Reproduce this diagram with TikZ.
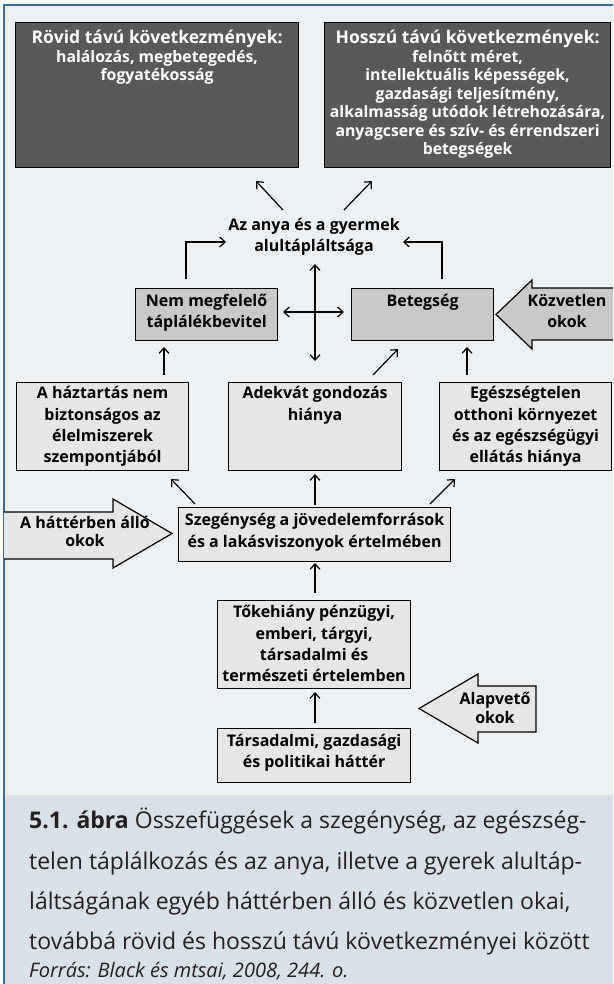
\documentclass[tikz,border=0pt]{standalone}
\usepackage{fontspec}
\setmainfont{Open Sans}
\usetikzlibrary{arrows.meta,calc}
\definecolor{pagebg}{HTML}{EDF1F4}
\definecolor{capbg}{HTML}{D9E1E8}
\definecolor{frameblue}{HTML}{3A6C9A}
\definecolor{darkbox}{HTML}{58595B}
\definecolor{midgrey}{HTML}{C9C9C9}
\definecolor{lightgrey}{HTML}{E6E6E6}
\definecolor{captext}{HTML}{231F20}
\newcommand{\consheading}[1]{{\fontsize{17.5}{18.5}\selectfont\bfseries #1}}
\tikzset{
  boxframe/.style={draw=black,line width=1.2pt},
  darkframe/.style={boxframe,fill=darkbox},
  midframe/.style={boxframe,fill=midgrey},
  lightframe/.style={boxframe,fill=lightgrey},
  boxtext/.style={anchor=north,align=center,inner sep=0pt,
    font=\fontsize{16}{21.3}\selectfont\bfseries},
  darktext/.style={anchor=north,align=center,inner sep=0pt,text=white,
    font=\fontsize{15.8}{18.5}\selectfont\bfseries},
  arr/.style={line width=1.2pt,-{Straight Barb[length=5.5pt,width=10pt,line width=1.2pt]}},
  dblarr/.style={line width=1.2pt,{Straight Barb[length=5.5pt,width=10pt,line width=1.2pt]}-{Straight Barb[length=5.5pt,width=10pt,line width=1.2pt]}},
  captionline/.style={anchor=base west,inner sep=0pt,text=captext,
    font=\fontsize{23}{40}\selectfont},
}
\begin{document}
\begin{tikzpicture}[x=1pt,y=-1pt]
\useasboundingbox (0,0) rectangle (613,984);
% page and caption band, with the blue frame on top and left
\fill[white] (0,0) rectangle (613,984);
\fill[pagebg] (4,5) rectangle (613,795);
\fill[capbg] (4,795) rectangle (613,984);
\draw[frameblue,line width=1.5pt] (4,984) -- (4,5) -- (613,5);

% consequences
\node[darkframe,minimum width=283pt,minimum height=145pt,anchor=north west,inner sep=0pt] (shortbox) at (15,22) {};
\node[darktext] (shorttxt) at ($(shortbox.north)+(0,8)$) {\consheading{Rövid távú következmények:}\\halálozás, megbetegedés,\\fogyatékosság};
\node[darkframe,minimum width=286pt,minimum height=145pt,anchor=north west,inner sep=0pt] (longbox) at (324,22) {};
\node[darktext] (longtxt) at ($(longbox.north)+(0,8)$) {\consheading{Hosszú távú következmények:}\\felnőtt méret,\\intellektuális képességek,\\gazdasági teljesítmény,\\alkalmasság utódok létrehozására,\\anyagcsere és szív- és érrendszeri\\betegségek};

% undernutrition
\node[boxtext] (under) at (314,218) {Az anya és a gyermek\\alultápláltsága};

% immediate causes
\node[midframe,minimum width=142pt,minimum height=52pt,anchor=north west,inner sep=0pt] (intake) at (135,288) {};
\node[boxtext] (intaketxt) at ($(intake.north)+(0,6)$) {Nem megfelelő\\táplálékbevitel};
\node[midframe,minimum width=142pt,minimum height=52pt,anchor=north west,inner sep=0pt] (disease) at (351,288) {};
\node[boxtext] (diseasetxt) at ($(disease.north)+(0,6)$) {Betegség};

% underlying causes
\node[lightframe,minimum width=172pt,minimum height=88pt,anchor=north west,inner sep=0pt] (food) at (16,382) {};
\node[boxtext] (foodtxt) at ($(food.north)+(0,4.5)$) {A háztartás nem\\biztonságos az\\élelmiszerek\\szempontjából};
\node[lightframe,minimum width=173pt,minimum height=88pt,anchor=north west,inner sep=0pt] (care) at (228,382) {};
\node[boxtext] (caretxt) at ($(care.north)+(0,4.5)$) {Adekvát gondozás\\hiánya};
\node[lightframe,minimum width=172pt,minimum height=88pt,anchor=north west,inner sep=0pt] (env) at (439,382) {};
\node[boxtext] (envtxt) at ($(env.north)+(0,4.5)$) {Egészségtelen\\otthoni környezet\\és az egészségügyi\\ellátás hiánya};

\node[lightframe,minimum width=272pt,minimum height=54pt,anchor=north west,inner sep=0pt] (poverty) at (178,507) {};
\node[boxtext] (povertytxt) at ($(poverty.north)+(0,6.5)$) {Szegénység a jövedelemforrások\\és a lakásviszonyok értelmében};

% basic causes
\node[lightframe,minimum width=193pt,minimum height=88pt,anchor=north west,inner sep=0pt] (capital) at (217,600) {};
\node[boxtext] (capitaltxt) at ($(capital.north)+(0,5.5)$) {Tőkehiány pénzügyi,\\emberi, tárgyi,\\társadalmi és\\természeti értelemben};
\node[lightframe,minimum width=193pt,minimum height=54pt,anchor=north west,inner sep=0pt] (context) at (217,728) {};
\node[boxtext] (contexttxt) at ($(context.north)+(0,6)$) {Társadalmi, gazdasági\\és politikai háttér};

% block arrows naming the levels of causes
\fill[midgrey] (613,288) -- (532,288) -- (532,280) -- (496,314.5) -- (532,349) -- (532,340) -- (613,340) -- cycle;
\draw[line width=1.2pt] (613,288) -- (532,288) -- (532,280) -- (496,314.5) -- (532,349) -- (532,340) -- (613,340);
\node[boxtext] (immediate) at (567,294) {Közvetlen\\okok};

\fill[lightgrey] (4,512) -- (113,512) -- (113,499) -- (172,533.5) -- (113,568) -- (113,559) -- (4,559) -- cycle;
\draw[line width=1.2pt] (4,512) -- (113,512) -- (113,499) -- (172,533.5) -- (113,568) -- (113,559) -- (4,559);
\node[boxtext,font=\fontsize{16}{18.5}\selectfont\bfseries] (background) at (85,516) {A háttérben álló\\okok};

\draw[lightframe] (536,686) -- (478,686) -- (478,674) -- (419,708.5) -- (478,743) -- (478,732) -- (536,732) -- cycle;
\node[boxtext,font=\fontsize{16}{19}\selectfont\bfseries] (basic) at (495,692) {Alapvető\\okok};

% connectors
\coordinate (u1) at (283,210); \coordinate (s1) at (256,181);
\coordinate (u2) at (344,210); \coordinate (l1) at (372,181);
\draw[arr] (u1) -- (s1);
\draw[arr] (u2) -- (l1);

\coordinate (i1) at (186,279); \coordinate (i2) at (226,242);
\draw[arr] (i1) |- (i2);
\coordinate (d1) at (442,279); \coordinate (d2) at (403,242);
\draw[arr] (d1) |- (d2);

\coordinate (v1) at (315,264); \coordinate (v2) at (315,361);
\draw[dblarr] (v1) -- (v2);
\coordinate (h1) at (283,312); \coordinate (h2) at (344,312);
\draw[dblarr] (h1) -- (h2);

\draw[arr] (164,375) -- (164,347);
\draw[arr] (373,375) -- (398,349);
\draw[arr] (467,375) -- (467,347);

\draw[arr] (195,504) -- (171,479);
\draw[arr] (315,505) -- (315,474);
\draw[arr] (430,504) -- (455,479);

\draw[arr] (315,593) -- (315,563);
\draw[arr] (315,723) -- (315,692);

% caption
\node[captionline] (cap1) at (29,828) {\textbf{5.1. ábra} Összefüggések a szegénység, az egészség-};
\node[captionline] (cap2) at (29,869) {telen táplálkozás és az anya, illetve a gyerek alultáp-};
\node[captionline] (cap3) at (29,909) {láltságának egyéb háttérben álló és közvetlen okai,};
\node[captionline] (cap4) at (29,949) {továbbá rövid és hosszú távú következményei között};
\node[captionline,font=\fontsize{20}{22}\selectfont\itshape] (source) at (29,977) {Forrás: Black és mtsai, 2008, 244. o.};
\end{tikzpicture}
\end{document}
